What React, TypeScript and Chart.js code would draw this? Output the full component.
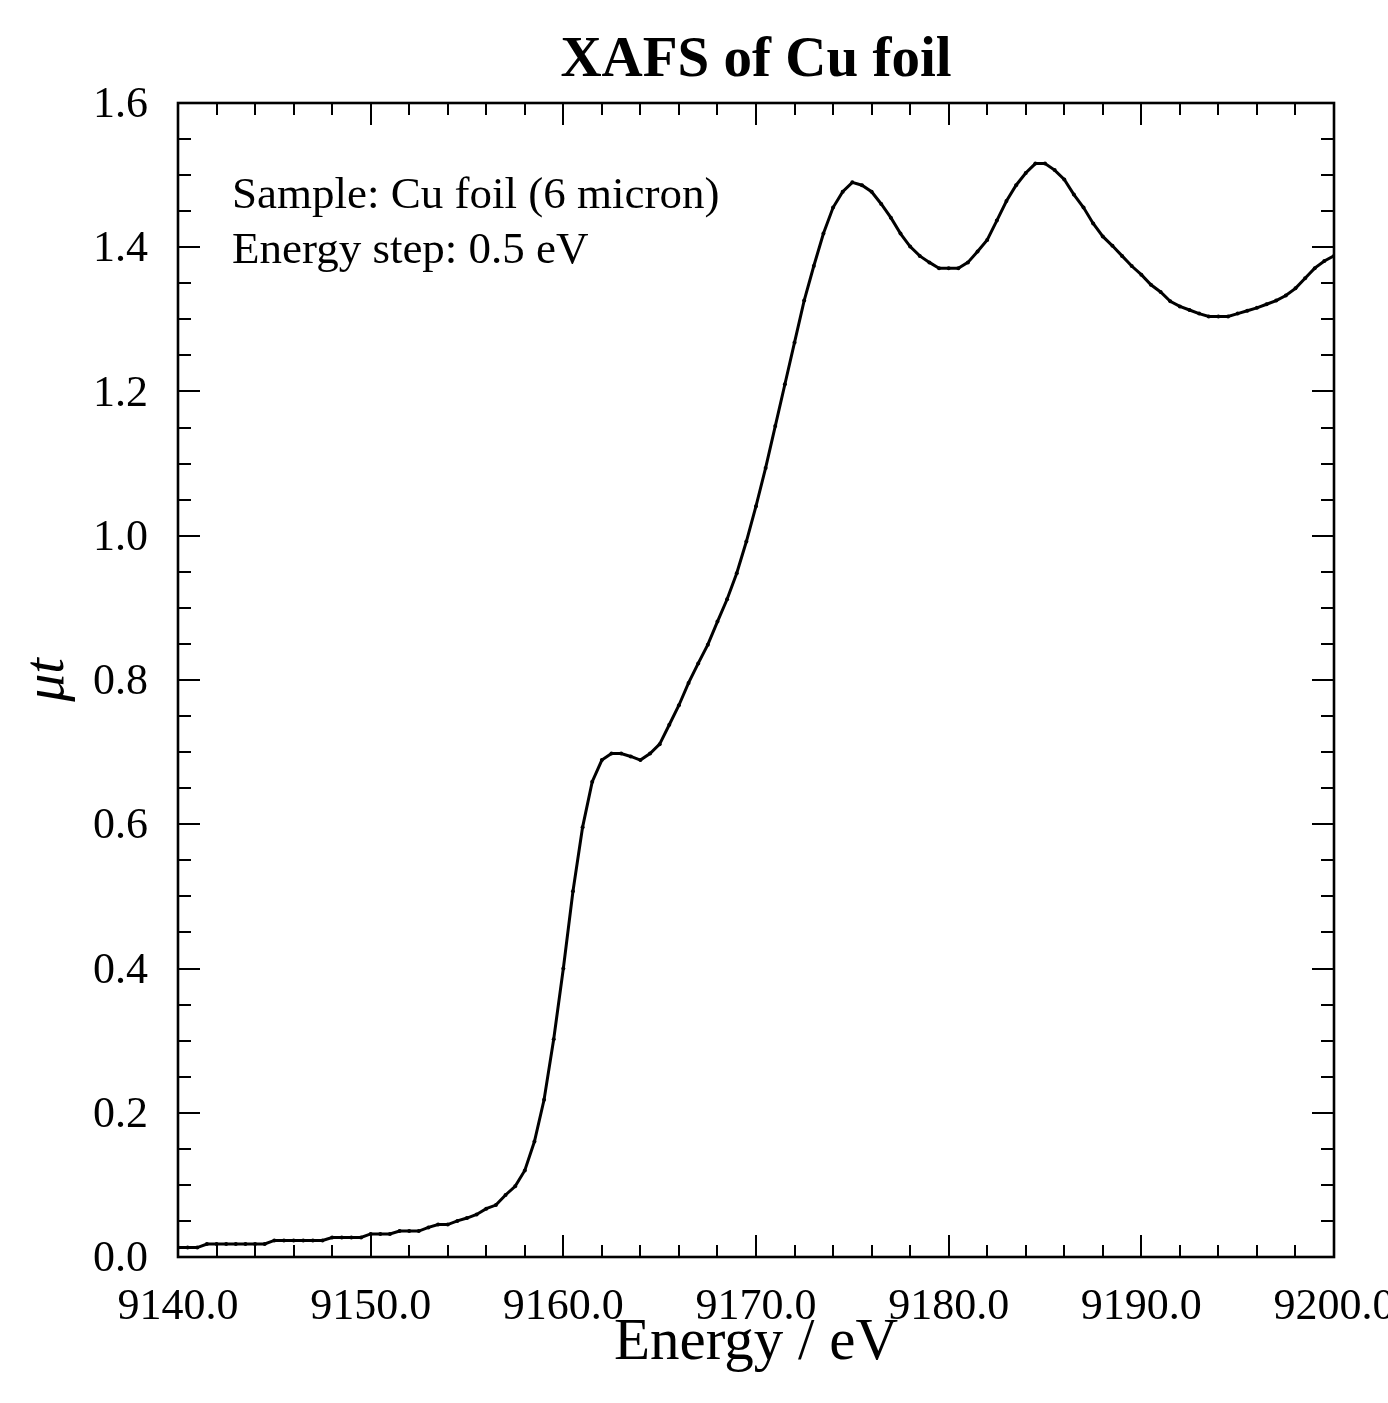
import React, { useEffect, useRef } from "react";
import { Chart, registerables } from "chart.js";

Chart.register(...registerables);

const titleText = "XAFS of Cu foil";
const xAxisTitle = "Energy / eV";
const yAxisTitle = "\u03bct";
const annotationLines = ["Sample: Cu foil (6 micron)", "Energy step: 0.5 eV"];

const energies: number[] = [
  9140.0, 9140.5, 9141.0, 9141.5, 9142.0, 9142.5, 9143.0, 9143.5, 9144.0, 9144.5,
  9145.0, 9145.5, 9146.0, 9146.5, 9147.0, 9147.5, 9148.0, 9148.5, 9149.0, 9149.5,
  9150.0, 9150.5, 9151.0, 9151.5, 9152.0, 9152.5, 9153.0, 9153.5, 9154.0, 9154.5,
  9155.0, 9155.5, 9156.0, 9156.5, 9157.0, 9157.5, 9158.0, 9158.5, 9159.0, 9159.5,
  9160.0, 9160.5, 9161.0, 9161.5, 9162.0, 9162.5, 9163.0, 9163.5, 9164.0, 9164.5,
  9165.0, 9165.5, 9166.0, 9166.5, 9167.0, 9167.5, 9168.0, 9168.5, 9169.0, 9169.5,
  9170.0, 9170.5, 9171.0, 9171.5, 9172.0, 9172.5, 9173.0, 9173.5, 9174.0, 9174.5,
  9175.0, 9175.5, 9176.0, 9176.5, 9177.0, 9177.5, 9178.0, 9178.5, 9179.0, 9179.5,
  9180.0, 9180.5, 9181.0, 9181.5, 9182.0, 9182.5, 9183.0, 9183.5, 9184.0, 9184.5,
  9185.0, 9185.5, 9186.0, 9186.5, 9187.0, 9187.5, 9188.0, 9188.5, 9189.0, 9189.5,
  9190.0, 9190.5, 9191.0, 9191.5, 9192.0, 9192.5, 9193.0, 9193.5, 9194.0, 9194.5,
  9195.0, 9195.5, 9196.0, 9196.5, 9197.0, 9197.5, 9198.0, 9198.5, 9199.0, 9199.5,
  9200.0,
];

const muT: number[] = [
  0.013, 0.013, 0.013, 0.018, 0.018, 0.018, 0.018, 0.018, 0.018, 0.018,
  0.023, 0.023, 0.023, 0.023, 0.023, 0.023, 0.027, 0.027, 0.027, 0.027,
  0.032, 0.032, 0.032, 0.036, 0.036, 0.036, 0.041, 0.045, 0.045, 0.050,
  0.054, 0.059, 0.067, 0.072, 0.086, 0.098, 0.120, 0.160, 0.218, 0.302,
  0.400, 0.507, 0.596, 0.659, 0.689, 0.698, 0.698, 0.694, 0.689, 0.698,
  0.711, 0.738, 0.765, 0.796, 0.823, 0.849, 0.881, 0.912, 0.948, 0.992,
  1.041, 1.094, 1.152, 1.210, 1.268, 1.326, 1.374, 1.419, 1.455, 1.477,
  1.490, 1.486, 1.477, 1.460, 1.441, 1.419, 1.401, 1.388, 1.379, 1.371,
  1.371, 1.371, 1.379, 1.394, 1.410, 1.437, 1.464, 1.486, 1.503, 1.516,
  1.516, 1.507, 1.494, 1.473, 1.455, 1.433, 1.415, 1.402, 1.388, 1.374,
  1.362, 1.348, 1.338, 1.325, 1.318, 1.313, 1.308, 1.304, 1.304, 1.304,
  1.308, 1.312, 1.316, 1.321, 1.326, 1.333, 1.343, 1.357, 1.371, 1.381,
  1.388,
];

const xTickValues: number[] = [9140, 9150, 9160, 9170, 9180, 9190, 9200];
const xTickLabels: string[] = ["9140.0", "9150.0", "9160.0", "9170.0", "9180.0", "9190.0", "9200.0"];
const yTickValues: number[] = [0, 0.2, 0.4, 0.6, 0.8, 1.0, 1.2, 1.4, 1.6];
const yTickLabels: string[] = ["0.0", "0.2", "0.4", "0.6", "0.8", "1.0", "1.2", "1.4", "1.6"];

const X_MIN = 9140;
const X_MAX = 9200;
const X_MINOR_STEP = 2;
const Y_MIN = 0;
const Y_MAX = 1.6;
const Y_MINOR_STEP = 0.05;

const SERIF = '"Liberation Serif", "DejaVu Serif", serif';

const framePlugin = {
  id: "xafsFrame",
  afterDraw(chart: any) {
    const { ctx, chartArea: a, scales } = chart;
    const xs = scales.x;
    const ys = scales.y;
    ctx.save();
    ctx.strokeStyle = "#000";
    ctx.fillStyle = "#000";
    ctx.lineCap = "butt";

    const seg = (x1: number, y1: number, x2: number, y2: number) => {
      ctx.beginPath();
      ctx.moveTo(x1, y1);
      ctx.lineTo(x2, y2);
      ctx.stroke();
    };

    ctx.lineWidth = 2;
    const nX = Math.round((X_MAX - X_MIN) / X_MINOR_STEP);
    for (let i = 0; i <= nX; i++) {
      const v = X_MIN + i * X_MINOR_STEP;
      const major = xTickValues.some((t) => Math.abs(t - v) < 1e-6);
      const len = major ? 22 : 12;
      const px = Math.round(xs.getPixelForValue(v));
      seg(px, a.bottom, px, a.bottom - len);
      seg(px, a.top, px, a.top + len);
    }
    const nY = Math.round((Y_MAX - Y_MIN) / Y_MINOR_STEP);
    for (let i = 0; i <= nY; i++) {
      const v = Y_MIN + i * Y_MINOR_STEP;
      const major = yTickValues.some((t) => Math.abs(t - v) < 1e-6);
      const len = major ? 22 : 13;
      const py = Math.round(ys.getPixelForValue(v));
      seg(a.left, py, a.left + len, py);
      seg(a.right, py, a.right - len, py);
    }

    ctx.lineWidth = 2.6;
    ctx.strokeRect(a.left, a.top, a.right - a.left, a.bottom - a.top);

    ctx.font = `44px ${SERIF}`;
    ctx.textAlign = "center";
    ctx.textBaseline = "alphabetic";
    xTickValues.forEach((v, i) => {
      ctx.fillText(xTickLabels[i], xs.getPixelForValue(v), a.bottom + 62);
    });
    ctx.textAlign = "right";
    yTickValues.forEach((v, i) => {
      ctx.fillText(yTickLabels[i], a.left - 30, ys.getPixelForValue(v) + 14);
    });

    ctx.textAlign = "center";
    ctx.font = `59px ${SERIF}`;
    ctx.fillText(xAxisTitle, (a.left + a.right) / 2, a.bottom + 102);

    ctx.save();
    ctx.translate(63, ys.getPixelForValue(0.8));
    ctx.rotate(-Math.PI / 2);
    ctx.font = `italic 56px ${SERIF}`;
    ctx.textAlign = "center";
    ctx.fillText(yAxisTitle, 0, 0);
    ctx.restore();

    ctx.font = `bold 57px ${SERIF}`;
    ctx.textAlign = "center";
    ctx.fillText(titleText, (a.left + a.right) / 2, 76);

    ctx.font = `45px ${SERIF}`;
    ctx.textAlign = "left";
    annotationLines.forEach((line, i) => {
      ctx.fillText(line, a.left + 54, a.top + 105 + i * 55);
    });

    ctx.restore();
  },
};

export default function App() {
  const canvasRef = useRef<HTMLCanvasElement | null>(null);

  useEffect(() => {
    document.body.style.margin = "0";
    const canvas = canvasRef.current;
    if (!canvas) return;
    const points = energies.map((e, i) => ({ x: e, y: muT[i] }));
    const chart = new Chart(canvas, {
      type: "line",
      data: {
        datasets: [
          {
            data: points,
            borderColor: "#000",
            backgroundColor: "#000",
            borderWidth: 3,
            pointRadius: 2,
            pointBorderWidth: 0,
            pointBackgroundColor: "#000",
            tension: 0,
            fill: false,
          },
        ],
      },
      options: {
        responsive: false,
        animation: false,
        devicePixelRatio: 1,
        layout: { padding: { left: 178, right: 54, top: 103, bottom: 146 } },
        plugins: {
          legend: { display: false },
          title: { display: false },
          tooltip: { enabled: false },
        },
        events: [],
        scales: {
          x: { type: "linear", min: X_MIN, max: X_MAX, display: false },
          y: { type: "linear", min: Y_MIN, max: Y_MAX, display: false },
        },
      },
      plugins: [framePlugin],
    });
    return () => chart.destroy();
  }, []);

  return (
    <div style={{ width: 1388, height: 1403, background: "#fff" }}>
      <canvas ref={canvasRef} width={1388} height={1403} style={{ display: "block" }} />
    </div>
  );
}
